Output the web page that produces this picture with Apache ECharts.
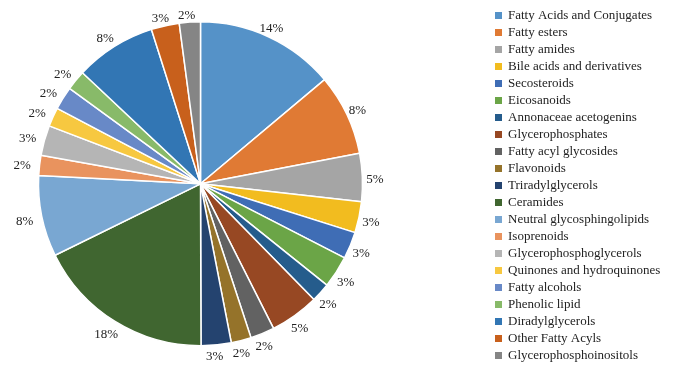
<!DOCTYPE html>
<html><head><meta charset="utf-8">
<script src="https://cdn.jsdelivr.net/npm/echarts@6/dist/echarts.min.js"></script>
<style>html,body{margin:0;padding:0;background:#fff}#c{width:684px;height:370px}</style>
</head><body><div id="c"></div>
<script>
const categories = ["Fatty Acids and Conjugates","Fatty esters","Fatty amides","Bile acids and derivatives","Secosteroids","Eicosanoids","Annonaceae acetogenins","Glycerophosphates","Fatty acyl glycosides","Flavonoids","Triradylglycerols","Ceramides","Neutral glycosphingolipids","Isoprenoids","Glycerophosphoglycerols","Quinones and hydroquinones","Fatty alcohols","Phenolic lipid","Diradylglycerols","Other Fatty Acyls","Glycerophosphoinositols"];
const values = [13.9,8.1,4.8,3.1,2.7,3.2,1.9,4.9,2.4,2.0,3.0,17.8,8.1,2.0,3.0,1.9,2.3,2.0,8.1,2.8,2.1];
const colors = ["#5592C8","#E07A34","#A5A5A5","#F2BC1F","#3F6DB5","#6BA547","#255C8C","#974823","#626262","#95732A","#24436F","#406630","#79A7D2","#E9935E","#B5B5B5","#F7C840","#6889C7","#88BA69","#3276B4","#C8601C","#858585"];
const CX = 200.5, CY = 183.8, R = 162;
const total = values.reduce((a,b)=>a+b,0);
const mids = [];
{ let cum = 0; values.forEach(v=>{ mids.push((cum + v/2)/total*2*Math.PI); cum += v; }); }
const chart = echarts.init(document.getElementById('c'));
chart.setOption({
  animation:false,
  color: colors,
  legend:{orient:'vertical',left:493,top:9,padding:0,itemWidth:9,itemHeight:9,itemGap:4,icon:'rect',
    textStyle:{fontFamily:'Liberation Serif',fontSize:13,color:'#222',lineHeight:13},
    data:categories},
  series:[{type:'pie',center:[CX,CY],radius:R,startAngle:90,clockwise:true,
    itemStyle:{borderColor:'#fff',borderWidth:1.5},
    label:{show:true,position:'outside',fontFamily:'Liberation Serif',fontSize:13,color:'#222',
      formatter:p=>Math.round(p.percent)+'%'},
    labelLine:{show:false,length:5,length2:0},
    labelLayout:function(p){
      const a = mids[p.dataIndex];
      const r = R + 9 + 6*Math.abs(Math.sin(a));
      return {x: CX + r*Math.sin(a) - 2.5, y: CY - r*Math.cos(a) + 2.5, align:'center', verticalAlign:'middle'};
    },
    emphasis:{disabled:true},
    data:categories.map((n,i)=>({name:n,value:values[i]}))}]
});
</script></body></html>
